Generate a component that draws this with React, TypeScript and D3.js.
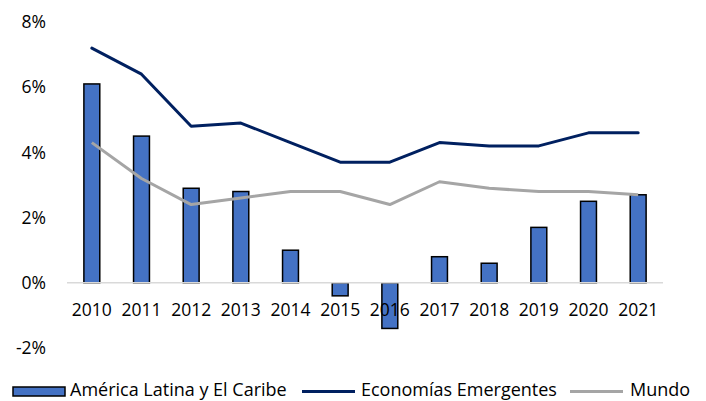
import React from "react";
import { scaleBand, scaleLinear, line } from "d3";

const years = ["2010", "2011", "2012", "2013", "2014", "2015", "2016", "2017", "2018", "2019", "2020", "2021"];
const latam = [6.1, 4.5, 2.9, 2.8, 1.0, -0.4, -1.4, 0.8, 0.6, 1.7, 2.5, 2.7];
const emergentes = [7.2, 6.4, 4.8, 4.9, 4.3, 3.7, 3.7, 4.3, 4.2, 4.2, 4.6, 4.6];
const mundo = [4.3, 3.2, 2.4, 2.6, 2.8, 2.8, 2.4, 3.1, 2.9, 2.8, 2.8, 2.7];
const yTicks = [-2, 0, 2, 4, 6, 8];

const width = 706;
const height = 401;
const font = "'Open Sans', sans-serif";

const App = () => {
  const x = scaleBand<string>().domain(years).range([67, 663]).paddingInner(0.68).paddingOuter(0.34);
  const y = scaleLinear().domain([-2, 8]).range([348, 22]);
  const cx = (i: number) => (x(years[i]) ?? 0) + x.bandwidth() / 2;

  const path = line<number>()
    .x((_, i) => cx(i))
    .y((v) => y(v));

  return (
    <svg width={width} height={height} style={{ position: "absolute", left: 0, top: 0 }} fontFamily={font}>
      <rect width={width} height={height} fill="#fff" />
      {yTicks.map((t) => (
        <text key={t} x={46} y={y(t)} dy="0.35em" textAnchor="end" fontSize={17.5} fill="#000">
          {t}%
        </text>
      ))}
      {latam.map((v, i) => (
        <rect
          key={years[i]}
          x={x(years[i])}
          y={y(Math.max(0, v))}
          width={x.bandwidth()}
          height={Math.abs(y(v) - y(0))}
          fill="#4472C4"
          stroke="#000"
          strokeWidth={1.5}
        />
      ))}
      <line x1={67} x2={663} y1={y(0)} y2={y(0)} stroke="#d9d9d9" strokeWidth={1.5} />
      <path d={path(mundo) ?? ""} fill="none" stroke="#A5A5A5" strokeWidth={3} strokeLinejoin="round" />
      <path d={path(emergentes) ?? ""} fill="none" stroke="#002060" strokeWidth={3} strokeLinejoin="round" strokeLinecap="round" />
      {years.map((yr, i) => (
        <text key={yr} x={cx(i)} y={310} dy="0.35em" textAnchor="middle" fontSize={17.5} fill="#000">
          {yr}
        </text>
      ))}
      <g fontSize={18}>
        <rect x={13} y={387} width={52} height={9} fill="#4472C4" stroke="#000" strokeWidth={1.5} />
        <text x={70} y={396}>América Latina y El Caribe</text>
        <line x1={302} x2={355} y1={391.5} y2={391.5} stroke="#002060" strokeWidth={3} />
        <text x={361} y={396}>Economías Emergentes</text>
        <line x1={570} x2={623} y1={391.5} y2={391.5} stroke="#A5A5A5" strokeWidth={3} />
        <text x={630} y={396}>Mundo</text>
      </g>
    </svg>
  );
};

export default App;
